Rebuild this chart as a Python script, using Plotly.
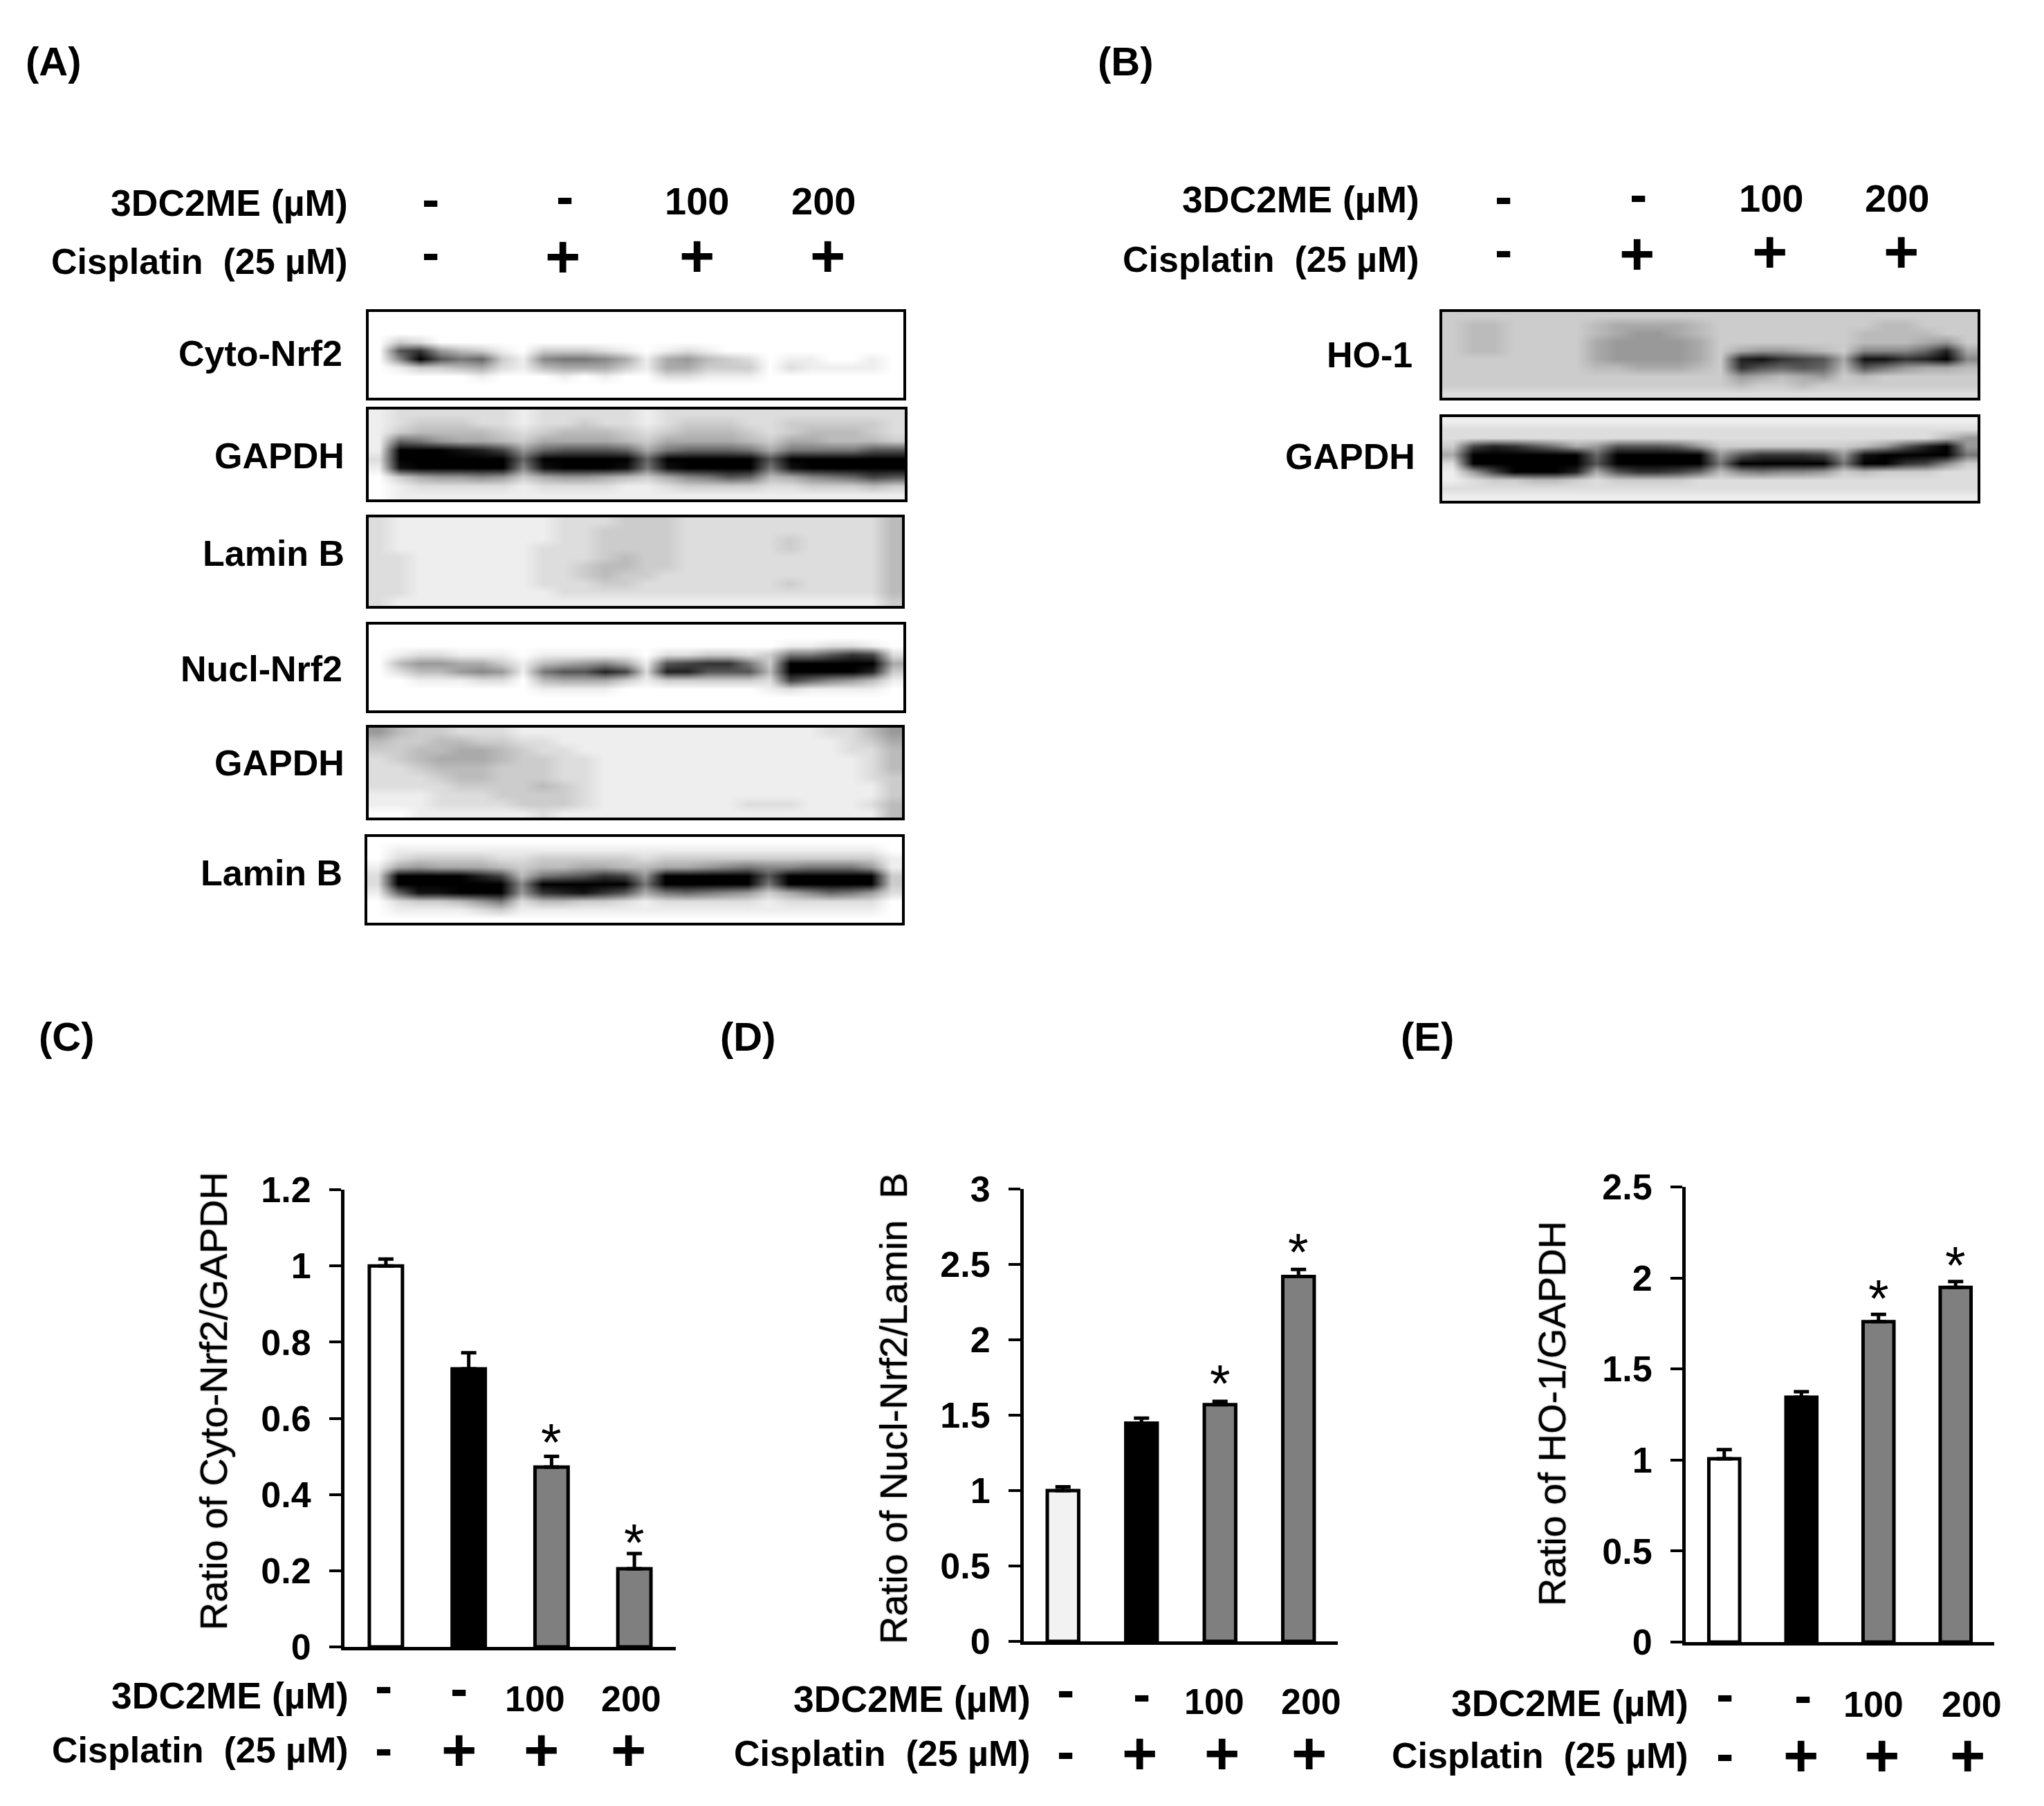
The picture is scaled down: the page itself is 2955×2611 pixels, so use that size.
import plotly.graph_objects as go

W, H = 2955, 2611
FONT = "Liberation Sans"

# ---------- data ----------
groups = ["ctrl", "cis", "cis+100", "cis+200"]
cyto_vals = [1.0, 0.73, 0.472, 0.205]
cyto_errs = [0.018, 0.042, 0.028, 0.04]
cyto_ticks = [0, 0.2, 0.4, 0.6, 0.8, 1, 1.2]
cyto_stars = [None, None, 0.556, 0.293]
nucl_vals = [1.0, 1.447, 1.57, 2.42]
nucl_errs = [0.025, 0.033, 0.022, 0.047]
nucl_ticks = [0, 0.5, 1, 1.5, 2, 2.5, 3]
nucl_stars = [None, None, 1.76, 2.63]
ho1_vals = [1.007, 1.345, 1.76, 1.948]
ho1_errs = [0.05, 0.03, 0.04, 0.032]
ho1_ticks = [0, 0.5, 1, 1.5, 2, 2.5]
ho1_stars = [None, None, 1.93, 2.11]
dose_labels = ["-", "-", "100", "200"]
cis_labels = ["-", "+", "+", "+"]

# band darkness of each blot, read by eye: one hex digit per cell (0 white .. f black)
blot_cyto = ["00000000000000000000000000","00000000000000000000000000","00000000000000000000000000",
 "03200000000000000000000000","0ac64310333210121000000000","07fa8931788751564320110010",
 "01334521455531553330211110","00000100010100221110000000","00000000000000000000000000","00000000000000000000000000"]
blot_gapdh_a = ["12222221222221222222222222","12333221223221233322333332","13444432344432344432344432",
 "19865543555543555543554443","1fffedb69aaa958999858888aa","2ffffff9fffff9fffffaffffff",
 "1efffff7efffe8effff8efffff","03566763566543578a945789ba","01222221222211233332233343","01111111111111111111111111"]
blot_lamin_empty = ["21111111122233322222222224","21111111122333322222222224","21111111122333322222322224",
 "21111111222333322222322224","22111111222343322222222224","22111111223443322222222224",
 "22111111223433222222222224","22111111222332222222322224","22111111122222222222222224","21111111111111111111111113"]
blot_nucl = ["00000000000000000000000000","00000000000000000000000000","00000000000000000000112210",
 "0122111011111022332388acb2","04665531456751abcc83fffff5","024467618aadb2ddaaa4ffffd3",
 "00111220455531333332b97641","00000000111100000001211110","00000000000000000000000000","00000000000000000000000000"]
blot_gapdh_empty = ["64332221111111111111112246","43344332211111111111111235","33445543221111111111111224",
 "23455543322111111111111124","22344433322111111111111124","22234433322111111111111123",
 "22223333432111111111111113","11122233332111111111111113","11122223332111111122211124","00111111211111111111111114"]
blot_lamin_a = ["00000000000000000000000000","01111111111111111111111110","02333322333332333333333331",
 "15655543445544556787788861","2ffffdb489acb6fffffafffff3","2ffffff7fffff8fffff8fffff3",
 "19eefff6cdeca5898763579862","02334682443321222221222220","01111231111111111111111110","00000000000000000000000000"]
blot_ho1 = ["33333333333333333333333333","34433334555543333333344333","34433334566543333333444433",
 "34433335666653333333444563","344333356666535665437779d5","33333335666653decba5eecdf7",
 "33333334455543ca9a94a86554","33333333333333654563433333","33333333333333433433333333","22222222222222222222222222"]
blot_gapdh_b = ["11111111111111111111111111","22222222222222222222222222","22222222222222222222222246",
 "3bdca856aaa96333333346adf6","5ffffff9fffff6acccb6effff8","2ffffffafffff8fffff8ffcb73",
 "16bfffd5accb94787763433322","12334432333322222222222222","22222222222222222222222222","11111111111111111111111111"]


# ---------- helpers ----------
def px(x):
    return x / W


def py(y):
    return 1 - y / H


fig = go.Figure()
annotations = []


def text(x, y, s, size=52, anchor="right", bold=True, yshift=0):
    annotations.append(dict(x=px(x), y=py(y), xref="paper", yref="paper", text=s, showarrow=False,
                            xanchor=anchor, yanchor="middle", yshift=yshift,
                            font=dict(family=FONT, size=size, color="black",
                                      weight=700 if bold else 400)))


def mark(x, y, s, num_size, plus_dy):
    if s == "-":
        text(x, y, s, size=76, anchor="center", yshift=6)
    elif s == "+":
        text(x, y + plus_dy, s, size=88, anchor="center")
    else:
        text(x, y, s, size=num_size, anchor="center")


def treatment(right, y1, y2, xs1, ys1, xs2, ys2, num_size=52, plus_dy=-3):
    text(right, y1, "3DC2ME (µM)", size=53.5)
    text(right, y2, "Cisplatin\u00a0 (25 µM)", size=52)
    for x, y, s in zip(xs1, ys1, dose_labels):
        mark(x, y, s, num_size, plus_dy)
    for x, y, s in zip(xs2, ys2, cis_labels):
        mark(x, y, s, num_size, plus_dy)


idx = 0


def add_blot(rows, x0, x1, y0, y1, label, label_right, label_dy):
    global idx
    idx += 1
    s = "" if idx == 1 else str(idx)
    z = [[int(c, 16) for c in r] for r in rows]
    fig.add_trace(go.Heatmap(z=z, zmin=0, zmax=15, colorscale=[[0, "white"], [1, "black"]],
                             showscale=False, zsmooth="best", hoverinfo="skip",
                             xaxis="x" + s, yaxis="y" + s))
    common = dict(showticklabels=False, ticks="", showgrid=False, zeroline=False, showline=True,
                  mirror=True, linecolor="black", linewidth=4, automargin=False)
    fig.layout["xaxis" + s] = dict(domain=[px(x0 + 3), px(x1 - 2)], anchor="y" + s, range=[-0.5, 25.5], **common)
    fig.layout["yaxis" + s] = dict(domain=[py(y1 - 2), py(y0 + 2)], anchor="x" + s, range=[9.5, -0.5], **common)
    text(label_right + 3, (y0 + y1) / 2 - 6 + label_dy, label)


def add_chart(vals, errs, ticks, stars, colors, x0, x1, y0, y1, ymax, title, title_x, title_y):
    global idx
    idx += 1
    s = str(idx)
    fig.add_trace(go.Bar(x=groups, y=vals, width=0.4, xaxis="x" + s, yaxis="y" + s,
                         marker=dict(color=colors, line=dict(color="black", width=5)),
                         error_y=dict(type="data", symmetric=False, array=errs,
                                      arrayminus=[0, 0, 0, 0], color="black", thickness=5, width=11),
                         showlegend=False, hoverinfo="skip"))
    fig.layout["xaxis" + s] = dict(domain=[px(x0), px(x1)], anchor="y" + s, type="category",
                                   categoryorder="array", categoryarray=groups, range=[-0.5, 3.5],
                                   showticklabels=False, ticks="", showgrid=False, zeroline=False,
                                   showline=True, linecolor="black", linewidth=5, automargin=False)
    fig.layout["yaxis" + s] = dict(domain=[py(y0), py(y1)], anchor="x" + s, range=[0, ymax],
                                   tickmode="array", tickvals=ticks, ticktext=[str(t) for t in ticks],
                                   ticks="outside", ticklen=17, tickwidth=4, tickcolor="black",
                                   ticklabelstandoff=16, showgrid=False, zeroline=False, automargin=False,
                                   showline=True, linecolor="black", linewidth=5,
                                   tickfont=dict(family=FONT, size=52, color="black", weight=700))
    annotations.append(dict(x=px(title_x), y=py(title_y), xref="paper", yref="paper", text=title,
                            textangle=-90, showarrow=False, xanchor="center", yanchor="middle",
                            font=dict(family=FONT, size=56, color="black", weight=400,
                                      shadow="0 0 2px rgba(0,0,0,0.7)")))
    for g, v in zip(groups, stars):
        if v is not None:
            annotations.append(dict(x=g, y=v, xref="x" + s, yref="y" + s, text="*", showarrow=False,
                                    xanchor="center", yanchor="middle", yshift=-10,
                                    font=dict(family=FONT, size=76, color="black")))


# ---------- panel letters ----------
for x, y, s in [(35, 88, "(A)"), (1585, 88, "(B)"), (54, 1498, "(C)"), (1039, 1498, "(D)"), (2023, 1498, "(E)")]:
    text(x, y, s, size=58, anchor="left")

# ---------- blots ----------
add_blot(blot_cyto, 530, 1308, 449, 577, "Cyto-Nrf2", 494, 4)
add_blot(blot_gapdh_a, 530, 1310, 590, 724, "GAPDH", 497, 8)
add_blot(blot_lamin_empty, 530, 1306, 746, 878, "Lamin B", 497, -6)
add_blot(blot_nucl, 530, 1308, 901, 1029, "Nucl-Nrf2", 494, 8)
add_blot(blot_gapdh_empty, 530, 1306, 1050, 1184, "GAPDH", 497, -8)
add_blot(blot_lamin_a, 528, 1306, 1208, 1336, "Lamin B", 494, -4)
add_blot(blot_ho1, 2082, 2861, 449, 577, "HO-1", 2041, 6)
add_blot(blot_gapdh_b, 2082, 2861, 601, 726, "GAPDH", 2045, 2)

treatment(505, 293, 378, [622, 816, 1008, 1190], [293, 290, 291, 291], [622, 813, 1008, 1196], [371, 369, 367, 367], 56, 2)
treatment(2054, 288, 375, [2173, 2368, 2560, 2742], [289, 286, 287, 287], [2173, 2366, 2558, 2748], [367, 365, 362, 362], 56, 2)

# ---------- bar charts ----------
add_chart(cyto_vals, cyto_errs, cyto_ticks, cyto_stars, ["white", "black", "#7f7f7f", "#7f7f7f"],
          498, 977, 2381, 1720, 1.2, "Ratio of Cyto-Nrf2/GAPDH", 309, 2026)
add_chart(nucl_vals, nucl_errs, nucl_ticks, nucl_stars, ["#f2f2f2", "black", "#7f7f7f", "#7f7f7f"],
          1480, 1934, 2373, 1719, 3, "Ratio of Nucl-Nrf2/Lamin\u00a0 B", 1291, 2036)
add_chart(ho1_vals, ho1_errs, ho1_ticks, ho1_stars, ["white", "black", "#7f7f7f", "#7f7f7f"],
          2437, 2883, 2374, 1716, 2.5, "Ratio of HO-1/GAPDH", 2243, 2044)

treatment(506, 2451, 2530, [554, 663, 773, 912], [2442, 2446, 2456, 2456], [554, 663, 782, 908], [2532, 2532, 2532, 2532])
treatment(1492, 2456, 2535, [1540, 1651, 1756, 1896], [2448, 2454, 2460, 2460], [1540, 1647, 1766, 1892], [2537, 2537, 2537, 2537])
treatment(2443, 2462, 2538, [2493, 2606, 2708, 2850], [2454, 2456, 2464, 2464], [2493, 2603, 2720, 2844], [2540, 2540, 2540, 2540])

fig.update_layout(template="none", width=W, height=H, autosize=False, margin=dict(l=0, r=0, t=0, b=0, pad=0),
                  paper_bgcolor="white", plot_bgcolor="rgba(0,0,0,0)", showlegend=False,
                  annotations=annotations, font=dict(family=FONT))

fig.write_html("out.html", config={"displayModeBar": False}, post_script="document.body.style.margin='0';")
